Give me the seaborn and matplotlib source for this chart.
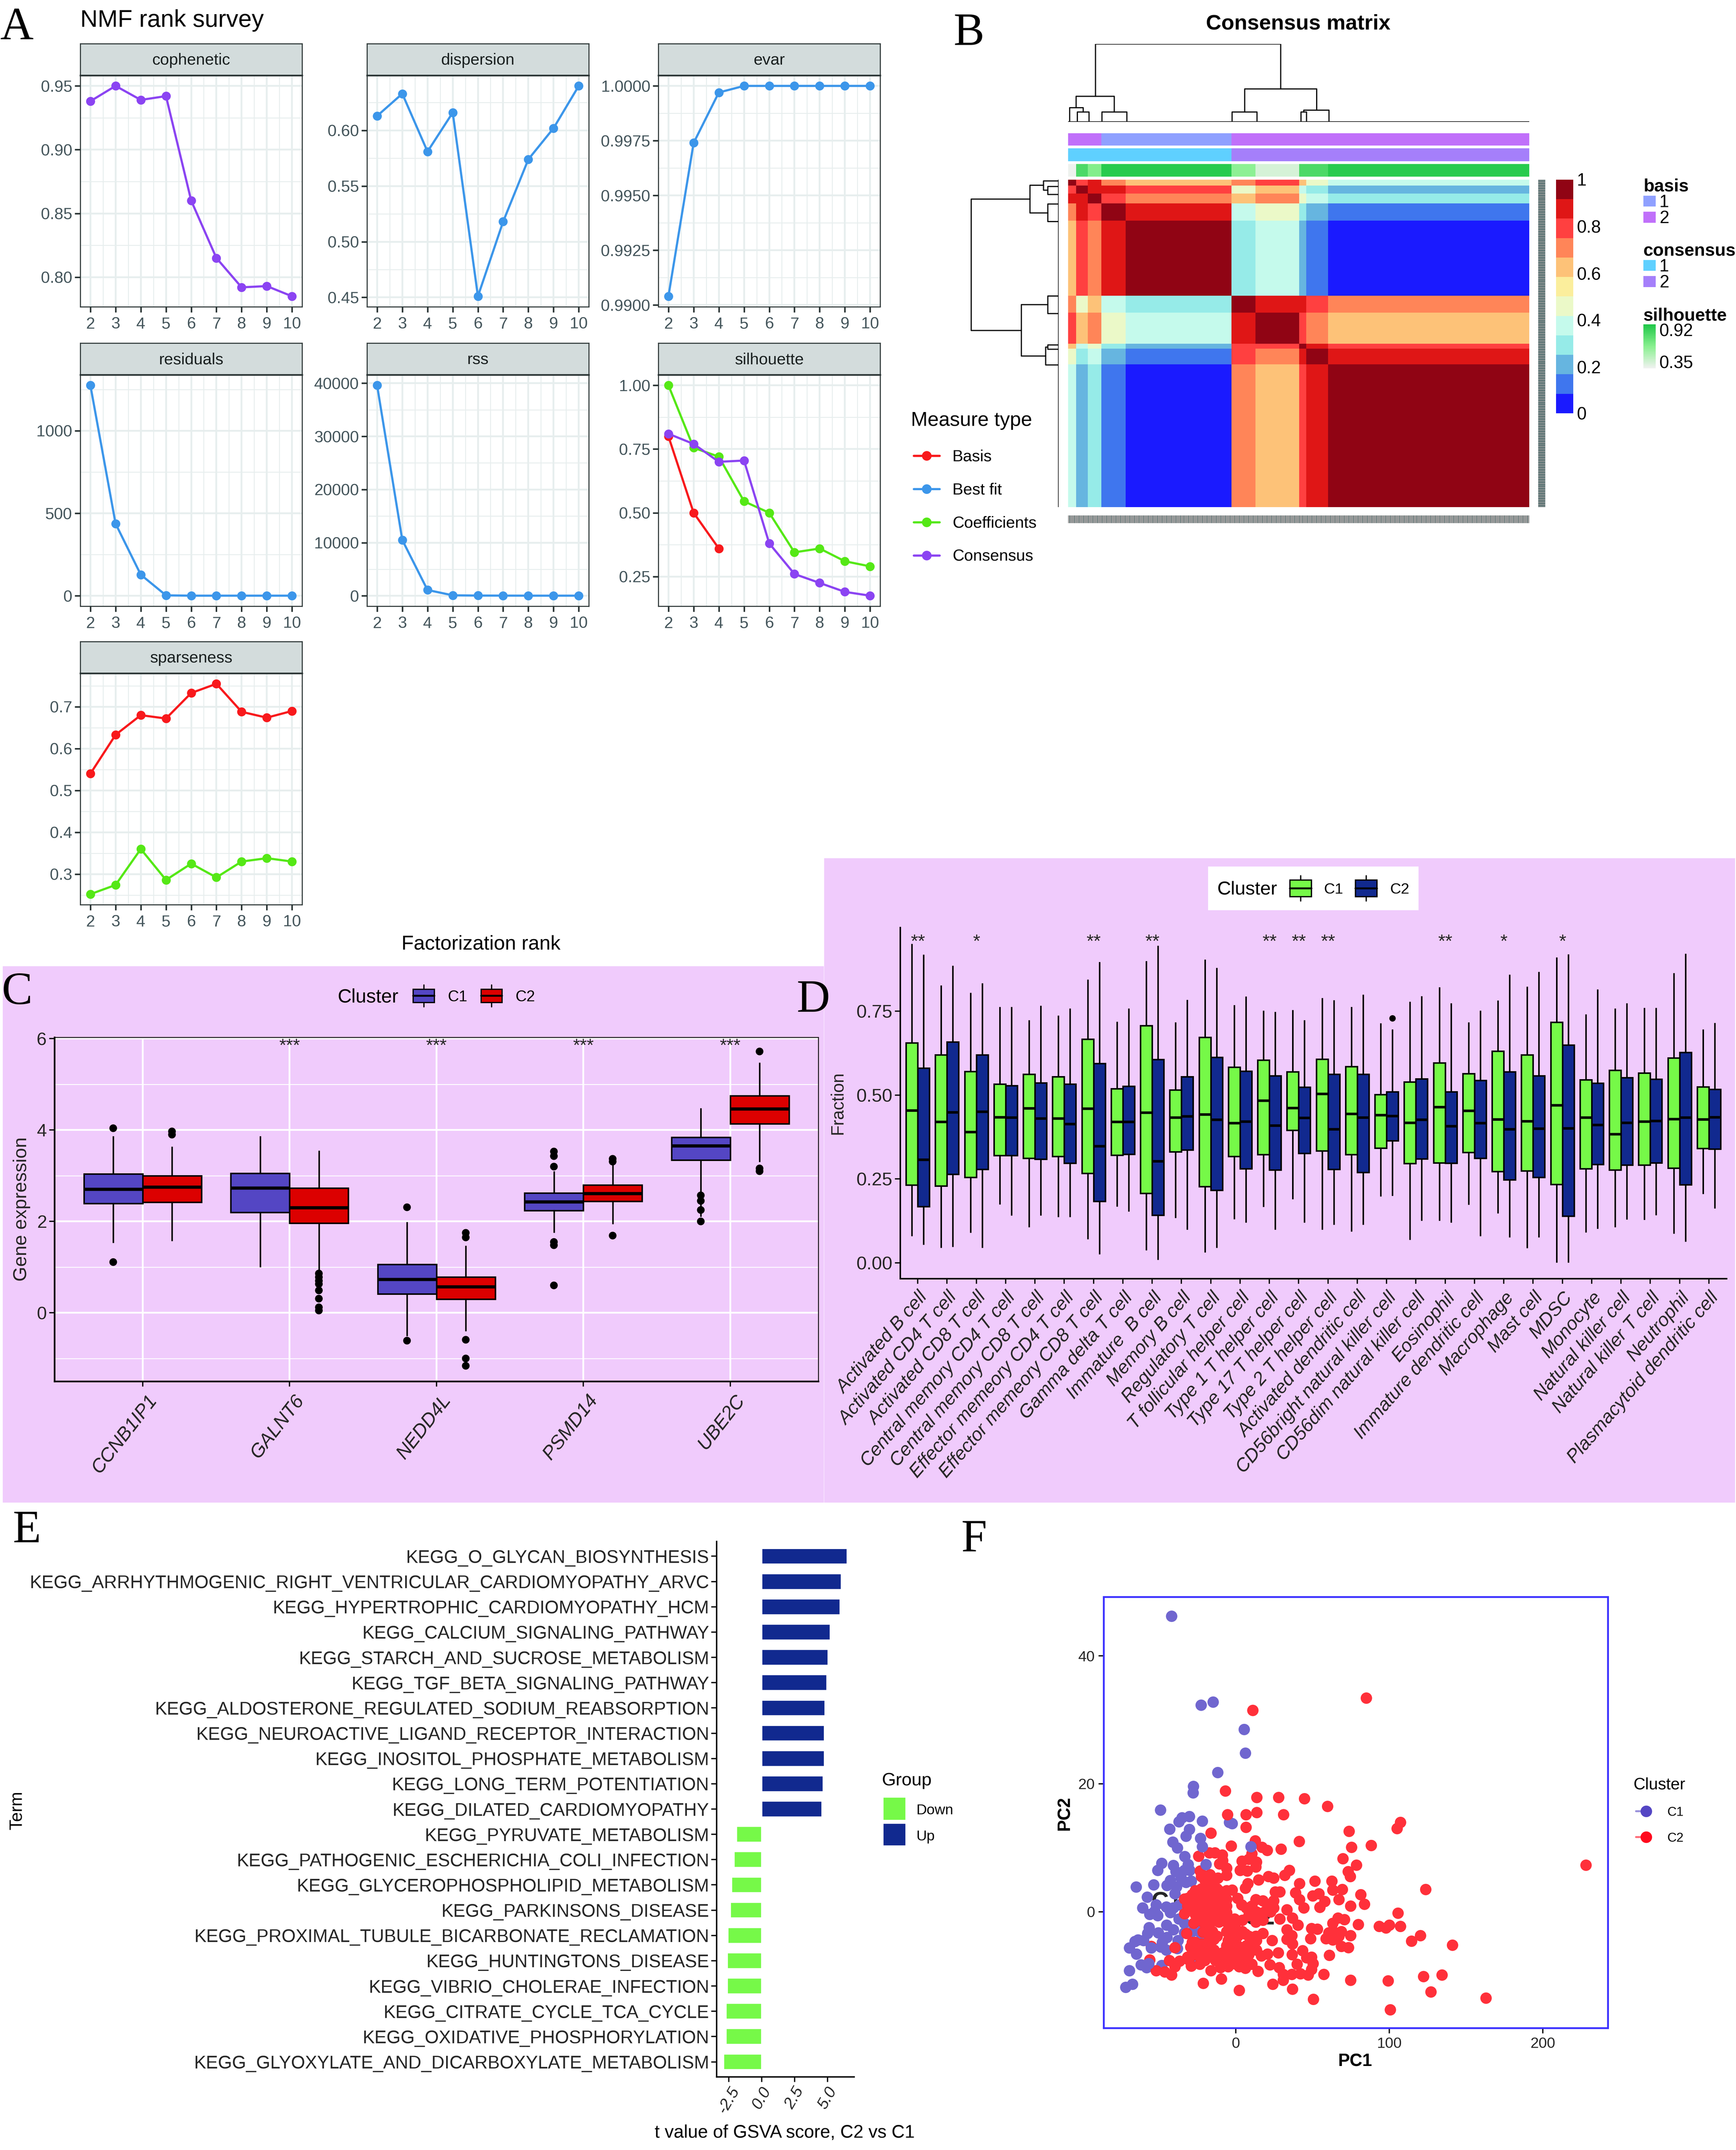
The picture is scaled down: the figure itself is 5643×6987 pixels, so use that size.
"""Composite figure: NMF rank survey, consensus matrix, boxplots, GSVA bars and PCA."""

import matplotlib

matplotlib.use("Agg")

import matplotlib.pyplot as plt
import numpy as np
import pandas as pd
import seaborn as sns
from matplotlib.colors import LinearSegmentedColormap, ListedColormap
from matplotlib.patches import Rectangle
from matplotlib.ticker import AutoMinorLocator, FormatStrFormatter, MultipleLocator
from matplotlib.transforms import ScaledTranslation

W, H = 5643, 6987

sns.set_theme(style="ticks")
plt.rcParams["font.family"] = ["Liberation Sans", "DejaVu Sans"]
plt.rcParams["axes.unicode_minus"] = False

# --- panel A
ranks = [2, 3, 4, 5, 6, 7, 8, 9, 10]
cophenetic = [0.938, 0.950, 0.939, 0.942, 0.860, 0.815, 0.792, 0.793, 0.785]
dispersion = [0.613, 0.633, 0.581, 0.616, 0.451, 0.518, 0.574, 0.602, 0.640]
evar = [0.9904, 0.9974, 0.9997, 1.0, 1.0, 1.0, 1.0, 1.0, 1.0]
residuals = [1275, 437, 128, 3, 1, 1, 1, 1, 1]
rss = [39600, 10500, 1100, 100, 50, 40, 30, 30, 30]
silhouette_basis = [0.80, 0.50, 0.36]
silhouette_coef = [1.00, 0.755, 0.72, 0.545, 0.50, 0.345, 0.36, 0.31, 0.29]
silhouette_cons = [0.81, 0.77, 0.70, 0.705, 0.38, 0.26, 0.225, 0.19, 0.175]
sparseness_basis = [0.54, 0.633, 0.68, 0.672, 0.733, 0.755, 0.688, 0.674, 0.69]
sparseness_coef = [0.252, 0.274, 0.36, 0.286, 0.325, 0.292, 0.33, 0.338, 0.33]

# --- panel B: block sizes and colour level (0-11) of each block pair
block_sizes = [7, 10, 12, 21, 92, 21, 38, 6, 19, 175]
block_levels = [
    [11, 9, 10, 8, 7, 8, 9, 7, 5, 4],
    [9, 11, 10, 10, 9, 5, 7, 4, 3, 2],
    [10, 10, 11, 9, 8, 7, 8, 5, 4, 3],
    [8, 10, 9, 11, 10, 4, 5, 3, 2, 1],
    [7, 9, 8, 10, 11, 3, 4, 2, 1, 0],
    [8, 5, 7, 4, 3, 11, 10, 10, 9, 8],
    [9, 7, 8, 5, 4, 10, 11, 9, 8, 7],
    [7, 4, 5, 3, 2, 9, 9, 11, 10, 9],
    [5, 3, 4, 2, 1, 9, 8, 10, 11, 10],
    [4, 2, 3, 1, 0, 8, 7, 9, 10, 11],
]
basis_groups = [1, 1, 1, 0, 0, 1, 1, 1, 1, 1]
consensus_groups = [0, 0, 0, 0, 0, 1, 1, 1, 1, 1]
silhouette_blocks = [0.35, 0.80, 0.65, 0.90, 0.90, 0.62, 0.42, 0.80, 0.80, 0.90]
# left, right, height, left child height, right child height
top_links = [
    (51, 395, 208, 68, 88), (15, 86, 68, 38, 26), (3, 28, 38, 0, 26),
    (17, 39, 26, 0, 0), (63, 109, 26, 0, 0), (328, 462, 88, 26, 31),
    (305, 351, 26, 0, 0), (438, 485, 31, 26, 0), (433, 443, 26, 0, 0),
]
left_links = [
    (52, 404, 162, 53, 69), (15, 89, 53, 28, 20), (3, 28, 28, 0, 20),
    (18, 40, 20, 0, 0), (65, 112, 20, 0, 0), (335, 473, 69, 20, 24),
    (312, 359, 20, 0, 0), (449, 497, 24, 20, 0), (443, 455, 20, 0, 0),
]
heat_colors = ["#1A1AFF", "#3F76EE", "#66B5E0", "#96EBE8", "#C5FAEC", "#EBF9C8",
               "#FBEE9C", "#FDC278", "#FF8558", "#FF4040", "#DF1616", "#900414"]

# --- panel C: low, q1, median, q3, high
genes = ["CCNB1IP1", "GALNT6", "NEDD4L", "PSMD14", "UBE2C"]
gene_c1 = [
    [1.53, 2.39, 2.70, 3.04, 3.87],
    [1.00, 2.20, 2.73, 3.05, 3.87],
    [-0.51, 0.41, 0.73, 1.06, 1.99],
    [1.75, 2.24, 2.43, 2.62, 3.10],
    [2.10, 3.34, 3.65, 3.84, 4.48],
]
gene_c2 = [
    [1.57, 2.42, 2.75, 3.00, 3.64],
    [0.90, 1.96, 2.30, 2.73, 3.55],
    [-0.40, 0.30, 0.57, 0.78, 1.47],
    [1.94, 2.44, 2.61, 2.80, 3.28],
    [3.30, 4.14, 4.46, 4.75, 5.48],
]
gene_out_c1 = [[4.04, 1.11], [], [2.31, -0.61], [3.53, 3.43, 3.20, 1.55, 1.48, 0.60],
               [2.57, 2.45, 2.25, 2.00]]
gene_out_c2 = [[3.97, 3.90], [0.86, 0.78, 0.70, 0.63, 0.49, 0.31, 0.12, 0.05],
               [1.75, 1.65, -0.59, -1.0, -1.16], [3.37, 3.31, 1.69], [5.72, 3.16, 3.10]]
gene_stars = ["", "***", "***", "***", "***"]

# --- panel D
cells = [
    "Activated B cell", "Activated CD4 T cell", "Activated CD8 T cell",
    "Central memory CD4 T cell", "Central memory CD8 T cell",
    "Effector memeory CD4 T cell", "Effector memeory CD8 T cell",
    "Gamma delta T cell", "Immature  B cell", "Memory B cell", "Regulatory T cell",
    "T follicular helper cell", "Type 1 T helper cell", "Type 17 T helper cell",
    "Type 2 T helper cell", "Activated dendritic cell",
    "CD56bright natural killer cell", "CD56dim natural killer cell", "Eosinophil",
    "Immature dendritic cell", "Macrophage", "Mast cell", "MDSC", "Monocyte",
    "Natural killer cell", "Natural killer T cell", "Neutrophil",
    "Plasmacytoid dendritic cell",
]
cell_c1 = [
    [.080, .232, .454, .655, .950], [.045, .229, .420, .620, .827],
    [.090, .255, .390, .570, .805], [.174, .320, .434, .533, .763],
    [.106, .312, .460, .562, .723], [.137, .317, .430, .555, .737],
    [.071, .267, .459, .666, .844], [.168, .321, .420, .519, .719],
    [.038, .207, .447, .707, .899], [.134, .331, .433, .515, .717],
    [.031, .227, .442, .672, .904], [.130, .317, .416, .583, .768],
    [.167, .323, .483, .604, .752], [.190, .395, .461, .569, .753],
    [.099, .334, .503, .607, .789], [.094, .323, .444, .585, .763],
    [.198, .342, .440, .501, .714], [.069, .296, .417, .539, .778],
    [.126, .298, .464, .596, .821], [.173, .329, .453, .564, .717],
    [.148, .272, .427, .631, .782], [.044, .274, .422, .620, .823],
    [.001, .234, .469, .717, .910], [.091, .281, .433, .545, .741],
    [.106, .277, .383, .574, .758], [.128, .292, .421, .566, .760],
    [.087, .282, .428, .610, .863], [.205, .341, .427, .524, .696],
]
cell_c2 = [
    [.054, .168, .307, .580, .918], [.048, .264, .448, .658, .885],
    [.045, .279, .450, .620, .833], [.141, .320, .433, .528, .763],
    [.141, .309, .430, .536, .766], [.137, .297, .413, .533, .758],
    [.026, .183, .347, .594, .896], [.153, .324, .420, .526, .758],
    [.009, .142, .303, .606, .945], [.099, .336, .436, .555, .784],
    [.045, .216, .426, .612, .879], [.120, .281, .421, .571, .794],
    [.099, .277, .409, .557, .748], [.120, .326, .432, .523, .723],
    [.114, .279, .398, .562, .783], [.114, .270, .433, .562, .799],
    [.200, .364, .437, .510, .696], [.126, .310, .426, .548, .795],
    [.120, .297, .407, .510, .774], [.080, .312, .416, .544, .752],
    [.076, .248, .398, .569, .859], [.076, .255, .400, .557, .867],
    [.001, .139, .401, .649, .919], [.102, .293, .411, .535, .815],
    [.129, .292, .417, .552, .774], [.142, .298, .423, .547, .760],
    [.063, .233, .433, .627, .921], [.162, .339, .434, .517, .715],
]
cell_out_c2 = {"CD56bright natural killer cell": [0.729]}
cell_stars = ["**", "", "*", "", "", "", "**", "", "**", "", "", "", "**", "**", "**",
              "", "", "", "**", "", "*", "", "*", "", "", "", "", ""]

# --- panel E
terms = [
    "KEGG_O_GLYCAN_BIOSYNTHESIS", "KEGG_ARRHYTHMOGENIC_RIGHT_VENTRICULAR_CARDIOMYOPATHY_ARVC",
    "KEGG_HYPERTROPHIC_CARDIOMYOPATHY_HCM", "KEGG_CALCIUM_SIGNALING_PATHWAY",
    "KEGG_STARCH_AND_SUCROSE_METABOLISM", "KEGG_TGF_BETA_SIGNALING_PATHWAY",
    "KEGG_ALDOSTERONE_REGULATED_SODIUM_REABSORPTION",
    "KEGG_NEUROACTIVE_LIGAND_RECEPTOR_INTERACTION", "KEGG_INOSITOL_PHOSPHATE_METABOLISM",
    "KEGG_LONG_TERM_POTENTIATION", "KEGG_DILATED_CARDIOMYOPATHY", "KEGG_PYRUVATE_METABOLISM",
    "KEGG_PATHOGENIC_ESCHERICHIA_COLI_INFECTION", "KEGG_GLYCEROPHOSPHOLIPID_METABOLISM",
    "KEGG_PARKINSONS_DISEASE", "KEGG_PROXIMAL_TUBULE_BICARBONATE_RECLAMATION",
    "KEGG_HUNTINGTONS_DISEASE", "KEGG_VIBRIO_CHOLERAE_INFECTION", "KEGG_CITRATE_CYCLE_TCA_CYCLE",
    "KEGG_OXIDATIVE_PHOSPHORYLATION", "KEGG_GLYOXYLATE_AND_DICARBOXYLATE_METABOLISM",
]
t_values = [6.50, 6.07, 5.97, 5.21, 5.06, 4.97, 4.83, 4.78, 4.78, 4.68, 4.59,
            -1.91, -2.10, -2.29, -2.39, -2.58, -2.63, -2.63, -2.72, -2.72, -2.91]

# --- panel F
c2_under_x = [-55.0, -56.0]
c2_under_y = [-5.4, -7.5]
c1_x = [-41.9, -14.7, -22.5, 5.4, 6.3, -11.7, -27.5, -27.8, -49, -35, -30.2, -37.1, -43.1, -21.8,
        -4.2, -2.4, -30.2, -32.4, -23, -41, -38.1, -33.3, -48.3, -40.7, -31, -50.9, -39.1, -33.5,
        -30, -42.7, -35.6, -28.9, -53.5, -64.9, -44.8, -38.6, -32.5, -57.6, -39.7, -60.6, -51.9,
        -52.9, -56, -50.9, -45.3, -40.7, -42.7, -36.6, -37.1, -33.5, -56.5, -45, -40.7, -50.4,
        -57.5, -21.3, -27.9, -22.3, -63.7, -60.1, -65.7, -37.6, -44.8, -47.8, -69.3, -48.9, -45.3,
        -64.7, -38.1, -61.6, -58, -48.3, -69.3, -67.2, -71.6, -27.4, -33.5]
c1_y = [46.2, 32.8, 32.3, 28.5, 24.8, 21.8, 19.6, 18.6, 15.9, 14.7, 14.9, 14.1, 12.95, 14.2,
        14, 13.8, 12.9, 11.8, 11.5, 10.9, 10, 8.65, 7.6, 7.25, 7.4, 6.5, 6.3, 6.5,
        6.5, 4.9, 5.3, 4.8, 4.2, 3.9, 4.1, 3.9, 4.6, 2.3, 2.8, 0.6, 1.1,
        0.1, -0.4, -0.6, 0.75, 0.6, -0.1, 1.1, -1.1, -1.8, -2.45, -2.1, -2.8, -3.3,
        -3.4, -2.3, -3.05, -3.55, -4.4, -4.5, -4.65, -4.5, -4.0, -4.8, -5.65, -5.5, -6,
        -6.6, -5.75, -8.3, -8.7, -8.4, -9.2, -11.3, -11.8, -7, -3.3]
c2_x = [-6.7, 13.6, 27.9, 44.7, 59.7, -5.4, 6.6, 13.7, 31.1, 6.7, -16.1, 73.8, 12.7, 41.4, -2.9,
        29.5, 75.3, 17.1, 20.4, 69.7, 10.4, -24.1, -17.2, -13.6, -8.7, -8.5, -10.5, 4.1, 13.5, 8.4,
        2.8, 7.4, 13, -5.9, -5.9, -23.1, -22.3, -16.7, -11.5, 35, 31.9, 24.7, 21.2, 14.8, 7.9, 6.3,
        73.1, 74.6, 51.5, 62.5, 41.6, -2.3, 25.8, 28.8, 69.4, 63.1, 39, 54.1, 50.1, 67.1, 41.6, 58,
        54.7, 74.8, 44.4, -33.5, -28.4, -22.3, -18.2, -12.1, -8, -5.9, -17.2, -23.3, -28.4, -30.5,
        -33.5, -26.9, -20.2, -14.1, -7.5, -5.9, -12.1, -18.2, -22.3, -17.2, -10, 1.2, 3.8, 6.8, 13,
        17.6, 24.7, 20.6, 13.5, 18.1, 22.7, 33.4, 37, 28.8, 40.6, 4.3, -0.8, 13, 17.6, 66.6, 70.7,
        63.1, 49.3, 53.1, 63.6, 60.5, 68.7, 48.8, 58.7, 63.1, 74.8, 67.1, -27.4, -21.3, -15.1,
        -17.2, -32, -5.9, -1.8, 1.2, 6.3, 13, 17.6, 33.4, 36.5, 33.4, 37, 23.7, -28.4, -29.4, -22.3,
        -18.2, -17.2, -4.9, -5.9, 0.2, 6.8, 10.4, 13.5, 43.6, 68.7, 73.3, 61, -39.7, -43.2, -31.5,
        -22.3, -17.2, -8.5, -4.9, 2.3, 8.4, 16.6, 20.6, 27.8, 36.8, 49.3, 50.3, 46.2, 40, 28.3,
        22.2, -13.1, -20.2, -36.6, -39.7, -23.3, -28.9, -3.9, -10, -16.1, -4.9, 2.3, 6.3, 14.5,
        10.4, -51.9, -46.3, -41.9, 30.9, 36.5, 42.1, 47.2, 49.3, 57.3, 30.9, -21.1, -9.3, 24.2,
        2.2, 37, 50.6, 74.8, -26.4, -20.2, -14.1, -10, -22.3, -17.2, -25.3, -12.1, -18.2, -12.1,
        -14.1, -24.3, -15.1, 1.2, 6.3, -5.9, 2.3, -3.9, -0.6, 107.3, 105, 88.2, 78.7, 123.6, 81.5,
        83.9, 105.7, 79.9, 93.4, 97.8, 100.1, 107.2, 120.2, 114.5, 141.1, 99.2, 122.3, 134.3, 127,
        162.9, 100.7, 228, 85, 11,
        -26.4, -21.3, -16.1, -11, -5.9, -31.5, -21.3, -16.1, -11, -31.5, -26.4, -16.1, -11, -5.9,
        -26.4, -21.3, -16.1, -11, -5.9, -21.3, -16.1, -11, -5.9, -26.4, -20.2, -26.4, -14.1, -30.5,
        -2.9, 6.3, 13.5, 0.2, -9, 5.3, -1.8, 4.3, 10.4, 8.4, -20.2, -14.1, 10.4, 24.7, 8.4]
c2_y = [18.9, 17.9, 17.9, 17.7, 16.5, 15.2, 15.2, 15.5, 15.2, 13.2, 12.3, 12.6, 11.1, 11, 10.3,
        9.8, 10.1, 10.1, 9.6, 8.3, 9.1, 8.7, 9.2, 9.2, 8.9, 8, 7.5, 7.9, 7.8, 8.2,
        6.5, 6.4, 7, 6.8, 5.7, 6.4, 5.5, 5.8, 5.3, 6.5, 5.7, 5.3, 5.5, 5, 4.4, 3.7,
        6.3, 5.5, 4.8, 4.8, 4.4, 3.4, 3.1, 3.1, 3.5, 3.4, 2.96, 2.8, 2.5, 1.9, 1.9, 1.6,
        0.7, 0.9, 0.6, 2, 2.7, 3.6, 4.1, 3.6, 2.8, 1.9, 2.6, 2.3, 1.4, 0.6,
        -0.3, 0.4, 1.4, 1.1, 0.6, -0.1, 0.1, 0.1, -0.6, -1.1, -0.85, 2.1, 1.1, 0.6, 1.9,
        1.7, 1.7, 0.6, 0, -0.1, 0, 0.3, -1, -1.1, -2.1, -1.3, -1.1, -1.6, -1.3, -1, -1.2,
        -1.8, -2.6, -2.7, -3.1, -3.3, -3.1, -4.2, -4.2, -4.4, -3.7, -3.8, -1.8, -3.2, -3.1,
        -3.8, -3.4, -3.1, -2.8, -3.8, -3.5, -3.8, -3.4, -2.8, -3.7, -4.3, -5, -4.5, -4.8, -5.5, -5,
        -4.8, -5.8, -4.5, -5.3, -5, -5.3, -5.5, -4.5, -6.1, -5.4, -5.6, -6.8, -5.6, -7.6, -7.1,
        -6.5, -7, -6.4, -6.7, -6.5, -6.7, -6.9, -6.6, -6.4, -6.7, -7.1, -8.1, -7.2, -8.2, -8.7,
        -8.3, -7.6, -7.6, -7.7, -8.6, -8.2, -8.5, -8, -8.7, -9.2, -8.6, -8.6, -8.8, -9.3,
        -8.2, -9.2, -9.4, -9.9, -9.8, -9.8, -9.7, -9.9, -9, -9.8, -10.7, -11.2, -10.5, -11.3,
        -12.3, -12.1, -13.7, -10.7, 2.1, 3.1, 2.3, 1.9, 0.9, 1.6, -0.4, -1.3, -2.3, -3.8,
        -4.3, -6, -6.5, -7.2, -7.2, -7.7, -5.5, -3.8, -2.3, 14, 13, 10.4, 7.3, 3.5, 2.7,
        1.2, -0.2, -2, -2.3, -2.5, -2.1, -2.3, -3.7, -4.6, -5.2, -10.8, -10.1, -9.9, -12.5,
        -13.5, -15.3, 7.3, 33.4, 31.5,
        3.3, 3.3, 3.3, 3.3, 3.3, 2.1, 2.1, 2.1, 2.1, 0.9, 0.9, 0.9, 0.9, 0.9,
        -0.4, -0.4, -0.4, -0.4, -0.4, -1.6, -1.6, -1.6, -1.6, -4.8, -6, -6.7, -6, -7.5,
        -6, -6.2, -6, -8.2, -7.2, -8, -7, -3.1, -4.5, -3.8, 5, 5, 0.9, 0.6, -0.6]
c1_top_x = [9.9, -21.7, -19.4, -56.7, -55]
c1_top_y = [10.2, 10.2, 7.4, -8.1, -5.65]

RED, BLUE, GREEN, PURPLE = "#F8191C", "#3C96EA", "#55E816", "#8B44F2"
PINK = "#F0CBFC"
C_COLORS = {"C1": "#5446C4", "C2": "#DC0000"}
D_COLORS = {"C1": "#76F948", "C2": "#11298F"}
F_COLORS = {"C1": "#7066CF", "C2": "#FF303A"}
GRID, AXCOL, TICKCOL = "#E7EEEE", "#2B3535", "#44555B"

fig = plt.figure(figsize=(W / 300 + 1e-6, H / 300 + 1e-6), dpi=300, facecolor="white")


def ax_px(x0, y0, x1, y1, **kwargs):
    """Axes placed by pixel box, y measured from the top of the image."""
    return fig.add_axes([x0 / W, 1 - y1 / H, (x1 - x0) / W, (y1 - y0) / H], **kwargs)


bg = ax_px(0, 0, W, H, zorder=-5)
bg.set_xlim(0, W)
bg.set_ylim(H, 0)
bg.axis("off")
bg.add_patch(Rectangle((9, 3140), 2669, 1743, color=PINK, lw=0))
bg.add_patch(Rectangle((2679, 2789), 2961, 2094, color=PINK, lw=0))
bg.add_patch(Rectangle((3927, 2816), 684, 142, color="white", lw=0))

ov = ax_px(0, 0, W, H, zorder=20)
ov.set_xlim(0, W)
ov.set_ylim(H, 0)
ov.axis("off")
ov.patch.set_alpha(0)


def label(x, y, s, size=13, ha="left", va="center", **kwargs):
    ov.text(x, y + 4, s, fontsize=size, ha=ha, va=va, color=kwargs.pop("color", "black"), **kwargs)


for letter, lx, ly in [("A", 0, 86), ("B", 3100, 106), ("C", 6, 3223), ("D", 2590, 3248),
                       ("E", 42, 4972), ("F", 3125, 5000)]:
    label(lx, ly, letter, size=36, family=["Liberation Serif"])

# --- A: rank survey facets
label(261, 62, "NMF rank survey", size=18.8)
label(1563, 3064, "Factorization rank", size=15.6, ha="center")

facets = [
    ("cophenetic", [(cophenetic, PURPLE)], [.80, .85, .90, .95], "%.2f", 261, 245),
    ("dispersion", [(dispersion, BLUE)], [.45, .50, .55, .60], "%.2f", 1193, 245),
    ("evar", [(evar, BLUE)], [.99, .9925, .995, .9975, 1.0], "%.4f", 2140, 245),
    ("residuals", [(residuals, BLUE)], [0, 500, 1000], "%d", 261, 1218),
    ("rss", [(rss, BLUE)], [0, 10000, 20000, 30000, 40000], "%d", 1193, 1218),
    ("silhouette", [(silhouette_basis, RED), (silhouette_coef, GREEN), (silhouette_cons, PURPLE)],
     [.25, .50, .75, 1.0], "%.2f", 2140, 1218),
    ("sparseness", [(sparseness_basis, RED), (sparseness_coef, GREEN)],
     [.3, .4, .5, .6, .7], "%.1f", 261, 2188),
]
for name, series, yticks, fmt, x0, y0 in facets:
    ax = ax_px(x0, y0, x0 + 721, y0 + 752)
    ax.margins(0.05)
    for values, color in series:
        sns.lineplot(x=ranks[:len(values)], y=values, color=color, marker="o", markersize=7,
                     markeredgewidth=0, linewidth=1.7, errorbar=None, ax=ax)
    ax.set_xticks(ranks)
    ax.set_yticks(yticks)
    ax.yaxis.set_major_formatter(FormatStrFormatter(fmt))
    ax.xaxis.set_minor_locator(MultipleLocator(0.5))
    ax.yaxis.set_minor_locator(AutoMinorLocator(2))
    ax.grid(which="major", color=GRID, lw=1.4)
    ax.grid(which="minor", color=GRID, lw=0.7)
    ax.set_axisbelow(True)
    ax.tick_params(which="major", length=4.3, width=1.2, color=AXCOL, labelsize=12.6,
                   labelcolor=TICKCOL, pad=2)
    ax.tick_params(axis="x", which="major", pad=3.5)
    ax.tick_params(which="minor", length=0)
    for spine in ax.spines.values():
        spine.set_visible(True)
        spine.set_color(AXCOL)
        spine.set_linewidth(0.8)
    strip = ax_px(x0, y0 - 103, x0 + 721, y0)
    strip.set_facecolor("#D3DCDC")
    strip.set_xticks([])
    strip.set_yticks([])
    for spine in strip.spines.values():
        spine.set_visible(True)
        spine.set_color(AXCOL)
        spine.set_linewidth(0.8)
    strip.spines["bottom"].set_linewidth(1.3)
    strip.text(0.5, 0.47, name, transform=strip.transAxes, ha="center", va="center",
               fontsize=12.6, color="#1A2020")


# --- B: consensus matrix
def expand(block_values):
    return np.repeat(np.asarray(block_values), block_sizes)


levels = np.repeat(np.repeat(np.array(block_levels), block_sizes, axis=0), block_sizes, axis=1)
heat_cmap = ListedColormap(heat_colors)
ax = ax_px(3472, 584, 4971, 1648)
sns.heatmap(levels, cmap=heat_cmap, vmin=-0.5, vmax=11.5, cbar=False, xticklabels=False,
            yticklabels=False, ax=ax)

for values, colors, y0, y1 in [
    (basis_groups, ["#8FA0FF", "#C070FA"], 433, 473),
    (consensus_groups, ["#5FD0FF", "#A57FFA"], 482, 524),
]:
    ax = ax_px(3472, y0, 4971, y1)
    sns.heatmap(expand(values)[None, :], cmap=ListedColormap(colors), vmin=0, vmax=1, cbar=False,
                xticklabels=False, yticklabels=False, ax=ax)
sil_cmap = LinearSegmentedColormap.from_list("sil", ["#EEF2EE", "#88F08F", "#22C84A"])
ax = ax_px(3472, 533, 4971, 574)
sns.heatmap(expand(silhouette_blocks)[None, :], cmap=sil_cmap, vmin=0.35, vmax=0.92, cbar=False,
            xticklabels=False, yticklabels=False, ax=ax)

ax = ax_px(3472, 143, 4971, 396)
for left, right, height, h_left, h_right in top_links:
    ax.plot([left, left, right, right], [h_left, height, height, h_right], color="black", lw=0.9)
ax.plot([0, 857], [0, 0], color="black", lw=0.9)
ax.set_xlim(0, 857)
ax.set_ylim(0, 208)
ax.axis("off")

ax = ax_px(3155, 584, 3441, 1648)
for top, bottom, height, h_top, h_bottom in left_links:
    ax.plot([h_top, height, height, h_bottom], [top, top, bottom, bottom], color="black", lw=0.9)
ax.plot([0, 0], [0, 878], color="black", lw=0.9)
ax.set_xlim(163, 0)
ax.set_ylim(878, 0)
ax.axis("off")

# sample name ticks are illegible in the source, drawn as fine stripes
sample_pos = np.arange(sum(block_sizes))
ax = ax_px(5000, 584, 5023, 1648)
ax.add_patch(Rectangle((0, 0), 1, sample_pos[-1], color="#DCC4C4", zorder=0, lw=0))
ax.hlines(sample_pos, 0, 1, color="#3A6060", lw=0.42)
ax.set_ylim(sample_pos[-1], 0)
ax.set_xlim(0, 1)
ax.axis("off")
ax = ax_px(3472, 1675, 4971, 1700)
ax.add_patch(Rectangle((0, 0), sample_pos[-1], 1, color="#DCC4C4", zorder=0, lw=0))
ax.vlines(sample_pos, 0, 1, color="#3A6060", lw=0.42)
ax.set_xlim(0, sample_pos[-1])
ax.set_ylim(0, 1)
ax.axis("off")

ax = ax_px(5058, 584, 5114, 1343)
sns.heatmap(np.arange(12)[::-1][:, None], cmap=heat_cmap, vmin=-0.5, vmax=11.5, cbar=False,
            xticklabels=False, yticklabels=False, ax=ax)
for text, py in [("1", 584), ("0.8", 737), ("0.6", 890), ("0.4", 1041), ("0.2", 1194), ("0", 1344)]:
    label(5126, py, text, size=13.6)

label(4220, 73, "Consensus matrix", size=16.6, ha="center", fontweight="bold")
label(5342, 602, "basis", size=13.8, fontweight="bold")
label(5342, 812, "consensus", size=13.8, fontweight="bold")
label(5342, 1022, "silhouette", size=13.8, fontweight="bold")
for text, color, y0, y1 in [("1", "#8FA0FF", 636, 671), ("2", "#C070FA", 688, 724),
                            ("1", "#5FD0FF", 845, 880), ("2", "#A57FFA", 897, 933)]:
    ov.add_patch(Rectangle((5342, y0), 40, y1 - y0, color=color, lw=0))
    label(5394, (y0 + y1) / 2, text, size=13.6)
ax = ax_px(5342, 1054, 5382, 1197)
sns.heatmap(np.linspace(0.92, 0.35, 40)[:, None], cmap=sil_cmap, vmin=0.35, vmax=0.92, cbar=False,
            xticklabels=False, yticklabels=False, ax=ax)
label(5394, 1073, "0.92", size=13.6)
label(5394, 1177, "0.35", size=13.6)

label(2961, 1363, "Measure type", size=15.6)
for text, color, py in [("Basis", RED, 1481), ("Best fit", BLUE, 1589),
                        ("Coefficients", GREEN, 1697), ("Consensus", PURPLE, 1805)]:
    ov.plot([2970, 3054], [py, py], color=color, lw=1.7, marker="None")
    ov.plot([3012], [py], color=color, marker="o", ms=7.5, mew=0)
    label(3096, py, text, size=12.6)


# --- C / D boxplots built from the five-number summaries
def box_frame(names, c1_stats, c2_stats):
    rows = []
    for cluster, stats in (("C1", c1_stats), ("C2", c2_stats)):
        for name, values in zip(names, stats):
            rows += [(name, cluster, v) for v in values]
    return pd.DataFrame(rows, columns=["name", "cluster", "value"])


def draw_boxes(ax, names, frame, fliers, palette, lw, median_lw, flier_size):
    sns.boxplot(data=frame, x="name", y="value", hue="cluster", order=names,
                hue_order=["C1", "C2"], palette=palette, saturation=1, width=0.8, gap=0,
                whis=(0, 100), showfliers=False, showcaps=False, linewidth=lw, linecolor="black",
                medianprops={"linewidth": median_lw}, legend=False, ax=ax)
    sns.stripplot(data=fliers, x="name", y="value", hue="cluster", order=names,
                  hue_order=["C1", "C2"], palette={"C1": "black", "C2": "black"}, dodge=True,
                  jitter=False, size=flier_size, linewidth=0, legend=False, ax=ax)


ax = ax_px(177, 3371, 2660, 4489)
ax.patch.set_alpha(0)
draw_boxes(ax, genes, box_frame(genes, gene_c1, gene_c2),
           box_frame(genes, gene_out_c1, gene_out_c2), C_COLORS, 1.2, 2.5, 6)
ax.set_xlim(-0.6, 4.6)
ax.set_ylim(-1.5, 6.03)
ax.set_yticks([0, 2, 4, 6])
ax.yaxis.set_minor_locator(MultipleLocator(1))
ax.grid(which="major", color="white", lw=1.4)
ax.grid(which="minor", axis="y", color="white", lw=0.7)
ax.set_axisbelow(True)
ax.tick_params(which="minor", length=0)
ax.tick_params(axis="y", labelsize=14, length=4, width=1, color="black", pad=2)
ax.tick_params(axis="x", labelsize=15, length=4, width=1, color="black", pad=4)
shift_right = ScaledTranslation(3 / 72, 0, fig.dpi_scale_trans)
for tick in ax.get_xticklabels():
    tick.set(rotation=52, ha="right", va="top", rotation_mode="anchor", style="italic")
    tick.set_transform(tick.get_transform() + shift_right)
ax.set_xlabel("")
ax.set_ylabel("Gene expression", fontsize=14.9, labelpad=5)
for side, width in [("left", 1.3), ("bottom", 1.3), ("top", 0.7), ("right", 0.7)]:
    ax.spines[side].set_visible(True)
    ax.spines[side].set_color("black")
    ax.spines[side].set_linewidth(width)
for i, stars in enumerate(gene_stars):
    ax.text(i, 5.83, stars, ha="center", va="center", fontsize=14)


def box_legend(title_x, y0, y1, spans, colors, title_size, key_size):
    label(title_x, (y0 + y1) / 2, "Cluster", size=title_size, ha="center")
    for (name, x0, x1, text_x) in spans:
        mid = (x0 + x1) / 2
        ov.plot([mid, mid], [y0 - 14, y1 + 14], color="black", lw=1)
        ov.add_patch(Rectangle((x0, y0), x1 - x0, y1 - y0, facecolor=colors[name],
                               edgecolor="black", lw=1, zorder=3))
        ov.plot([x0, x1], [(y0 + y1) / 2] * 2, color="black", lw=1.5, zorder=4)
        label(text_x, (y0 + y1) / 2, name, size=key_size)


box_legend(1197, 3215, 3258, [("C1", 1343, 1412, 1455), ("C2", 1564, 1632, 1675)], C_COLORS, 15, 12)

ax = ax_px(2926, 3014, 5612, 4155)
ax.patch.set_alpha(0)
cell_outs_c2 = [cell_out_c2.get(c, []) for c in cells]
draw_boxes(ax, cells, box_frame(cells, cell_c1, cell_c2),
           box_frame(cells, [[] for _ in cells], cell_outs_c2), D_COLORS, 1.2, 2.0, 5)
ax.set_xlim(-0.6, 27.6)
ax.set_ylim(-0.0466, 0.999)
ax.set_yticks([0, 0.25, 0.5, 0.75])
ax.yaxis.set_major_formatter(FormatStrFormatter("%.2f"))
ax.tick_params(axis="y", labelsize=14.5, length=4, width=1, color="black", pad=2)
ax.tick_params(axis="x", labelsize=14.6, length=4, width=1, color="black", pad=4)
for tick in ax.get_xticklabels():
    tick.set(rotation=49, ha="right", va="top", rotation_mode="anchor", style="italic")
ax.set_xlabel("")
ax.set_ylabel("Fraction", fontsize=13.6, labelpad=8)
sns.despine(ax=ax)
ax.spines["left"].set_linewidth(1.2)
ax.spines["bottom"].set_linewidth(1.2)
ax.spines["left"].set_color("black")
ax.spines["bottom"].set_color("black")
for i, stars in enumerate(cell_stars):
    ax.text(i, 0.955, stars, ha="center", va="center", fontsize=14.5)
box_legend(4054, 2860, 2914, [("C1", 4193, 4263, 4303), ("C2", 4406, 4476, 4518)], D_COLORS, 14.8, 11.8)

# --- E: GSVA bars
bars = pd.DataFrame({"term": terms, "t": t_values})
bars["group"] = np.where(bars["t"] > 0, "Up", "Down")
ax = ax_px(2329, 5009, 2776, 6749)
ax.patch.set_alpha(0)
sns.barplot(data=bars, x="t", y="term", hue="group", dodge=False, width=0.63, saturation=1,
            palette={"Up": D_COLORS["C2"], "Down": D_COLORS["C1"]}, legend=False, ax=ax)
ax.set_xlim(-3.44, 7.02)
ax.set_ylim(20.59, -0.59)
ax.set_xticks([-2.5, 0, 2.5, 5])
ax.set_xticklabels(["-2.5", "0.0", "2.5", "5.0"], rotation=60, style="italic", fontsize=12.6)
ax.tick_params(axis="y", labelsize=14.1, length=4, width=1, color="black", pad=1.8)
ax.tick_params(axis="x", length=4, width=1, color="black", pad=2)
ax.set_xlabel("")
ax.set_ylabel("")
sns.despine(ax=ax)
ax.spines["left"].set_color("black")
ax.spines["bottom"].set_color("black")
ax.spines["left"].set_linewidth(1.1)
ax.spines["bottom"].set_linewidth(1.1)
label(2551, 6927, "t value of GSVA score, C2 vs C1", size=14.1, ha="center")
label(55, 5879, "Term", size=13.6, ha="center", rotation=90)
label(2866, 5783, "Group", size=14)
ov.add_patch(Rectangle((2872, 5842), 71, 72, color=D_COLORS["C1"], lw=0))
ov.add_patch(Rectangle((2872, 5927), 71, 70, color=D_COLORS["C2"], lw=0))
label(2978, 5880, "Down", size=11.3)
label(2978, 5965, "Up", size=11.3)

# --- F: PCA scatter
ax = ax_px(3588, 5190, 5227, 6591)
ax.patch.set_alpha(0)
ax.text(-45, 1.5, "C1", fontsize=18.7, fontweight="bold", ha="center", va="center", zorder=0.5)
ax.text(15.5, -1, "C2", fontsize=18.7, fontweight="bold", ha="center", va="center", zorder=0.5)
sns.scatterplot(x=c2_under_x, y=c2_under_y, color=F_COLORS["C2"], s=79, linewidth=0, ax=ax)
sns.scatterplot(x=c1_x, y=c1_y, color=F_COLORS["C1"], s=79, linewidth=0, ax=ax)
sns.scatterplot(x=c2_x, y=c2_y, color=F_COLORS["C2"], s=79, linewidth=0, ax=ax)
sns.scatterplot(x=c1_top_x, y=c1_top_y, color=F_COLORS["C1"], s=79, linewidth=0, ax=ax)
ax.set_xlim(-85.9, 242.5)
ax.set_ylim(-18.2, 49.2)
ax.set_xticks([0, 100, 200])
ax.set_yticks([0, 20, 40])
ax.tick_params(labelsize=11.7, length=4, width=1, color="black", pad=3)
for spine in ax.spines.values():
    spine.set_visible(True)
    spine.set_color("#3A30FF")
    spine.set_linewidth(1.4)
label(4405, 6695, "PC1", size=13.7, ha="center", fontweight="bold")
label(3461, 5890, "PC2", size=13.7, ha="center", rotation=90, fontweight="bold")
label(5309, 5796, "Cluster", size=12.8)
for name, py, key in [("C1", 5886, "#5446C4"), ("C2", 5970, "#FF0A1E")]:
    ov.plot([5318, 5340], [py, py], color=key, lw=1.5, alpha=0.6)
    ov.plot([5351], [py], color=key, marker="o", ms=9, mew=0)
    label(5420, py, name, size=10)

fig.savefig("out.png", dpi=300)
plt.close(fig)
